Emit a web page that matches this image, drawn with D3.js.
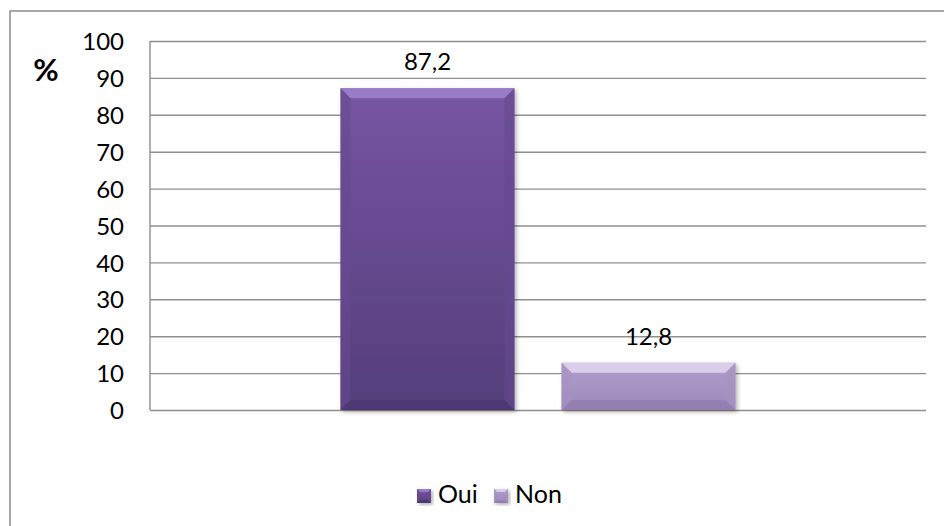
<!DOCTYPE html>
<html><head><meta charset="utf-8">
<script src="https://cdn.jsdelivr.net/npm/d3@7"></script>
<style>html,body{margin:0;padding:0;background:#fff;}svg{display:block;}</style>
</head><body>
<svg id="c" width="944" height="526"></svg>
<script>
const categories = [""];
const seriesNames = ["Oui", "Non"];
const values = [87.2, 12.8];
const yTicks = [0, 10, 20, 30, 40, 50, 60, 70, 80, 90, 100];
const valueLabels = ["87,2", "12,8"];
const yTitle = "%";

const palette = {
  Oui: {main0: "#7755a4", main1: "#543e7a", top: "#a084cc", side: "#664a8f", bottom: "#4a3670"},
  Non: {main0: "#b09dcc", main1: "#9d89bb", top: "#e2d7f1", side: "#a592c2", bottom: "#8f7bad"}
};

const svg = d3.select("#c");
const font = "Lato, 'Open Sans', sans-serif";
const defs = svg.append("defs");
const f = defs.append("filter").attr("id", "sh").attr("x", "-10%").attr("y", "-10%").attr("width", "130%").attr("height", "130%");
f.append("feDropShadow").attr("dx", 2).attr("dy", 2).attr("stdDeviation", 2).attr("flood-color", "#000").attr("flood-opacity", 0.3);
seriesNames.forEach(s => {
  const g = defs.append("linearGradient").attr("id", "g" + s).attr("x1", 0).attr("y1", 0).attr("x2", 0).attr("y2", 1);
  g.append("stop").attr("offset", "0%").attr("stop-color", palette[s].main0);
  g.append("stop").attr("offset", "100%").attr("stop-color", palette[s].main1);
});

// outer chart border
svg.append("rect").attr("x", 10).attr("y", 11).attr("width", 960).attr("height", 560)
  .attr("fill", "none").attr("stroke", "#8c8c8c").attr("stroke-width", 1.5);

const plot = {left: 150, right: 926, top: 41, bottom: 410};
const y = d3.scaleLinear().domain([0, 100]).range([plot.bottom, plot.top]);
const x0 = d3.scaleBand().domain(categories).range([plot.left, plot.right]);
const x1 = d3.scaleBand().domain(seriesNames).range([x0(categories[0]), x0(categories[0]) + x0.bandwidth()])
  .paddingInner(0.213).paddingOuter(0.862);

// gridlines via axis
const grid = svg.append("g").attr("transform", `translate(${plot.left},0)`)
  .call(d3.axisRight(y).tickValues(yTicks).tickSize(plot.right - plot.left).tickFormat(""));
grid.select(".domain").remove();
grid.selectAll("line").attr("stroke", "#8f8f8f").attr("stroke-width", 1.4);

// y axis labels
const ax = svg.append("g").attr("transform", `translate(${plot.left},0)`)
  .call(d3.axisLeft(y).tickValues(yTicks).tickSize(0).tickPadding(26));
ax.select(".domain").remove();
ax.selectAll("text").attr("font-family", font).attr("font-size", 24).attr("fill", "#000").attr("dy", "0.36em");
svg.append("line").attr("x1", plot.left).attr("x2", plot.left).attr("y1", plot.top).attr("y2", plot.bottom)
  .attr("stroke", "#8f8f8f").attr("stroke-width", 1.4);

svg.append("text").attr("x", 46).attr("y", 81).attr("text-anchor", "middle")
  .attr("font-family", font).attr("font-size", 31).attr("font-weight", "bold").text(yTitle);

function bevelBar(g, x, yTop, w, h, s, b) {
  const c = palette[s];
  const bb = Math.min(b, h / 2);
  g.append("rect").attr("x", x).attr("y", yTop).attr("width", w).attr("height", h)
    .attr("fill", `url(#g${s})`).attr("filter", "url(#sh)");
  g.append("path").attr("d", `M${x},${yTop}L${x + w},${yTop}L${x + w - bb},${yTop + bb}L${x + bb},${yTop + bb}Z`).attr("fill", c.top).attr("opacity", 0.85);
  g.append("path").attr("d", `M${x},${yTop}L${x + bb},${yTop + bb}L${x + bb},${yTop + h - bb}L${x},${yTop + h}Z`).attr("fill", c.side).attr("opacity", 0.6);
  g.append("path").attr("d", `M${x + w},${yTop}L${x + w - bb},${yTop + bb}L${x + w - bb},${yTop + h - bb}L${x + w},${yTop + h}Z`).attr("fill", c.side).attr("opacity", 0.6);
  g.append("path").attr("d", `M${x},${yTop + h}L${x + bb},${yTop + h - bb}L${x + w - bb},${yTop + h - bb}L${x + w},${yTop + h}Z`).attr("fill", c.bottom).attr("opacity", 0.7);
}

const bars = svg.append("g");
seriesNames.forEach((s, i) => {
  const xx = x1(s), w = x1.bandwidth();
  const yt = y(values[i]);
  bevelBar(bars, xx, yt, w, y(0) - yt, s, 10);
  svg.append("text").attr("x", xx + w / 2).attr("y", yt - 18).attr("text-anchor", "middle")
    .attr("font-family", font).attr("font-size", 24).attr("fill", "#000").text(valueLabels[i]);
});

// legend
const legendX = [417, 494];
seriesNames.forEach((s, i) => {
  const lg = svg.append("g");
  bevelBar(lg, legendX[i], 489, 14, 14, s, 3);
  lg.append("text").attr("x", legendX[i] + 21).attr("y", 503).attr("font-family", font)
    .attr("font-size", 25).attr("fill", "#000").text(s);
});
</script>
</body></html>
